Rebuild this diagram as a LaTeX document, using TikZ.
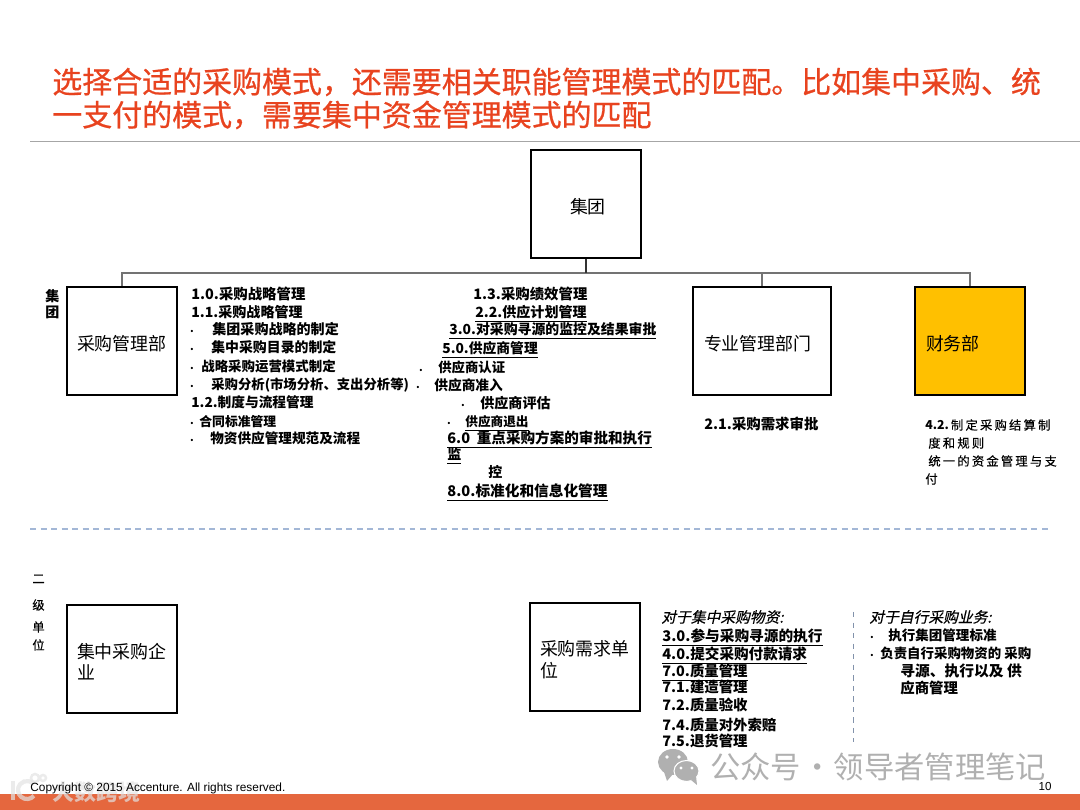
\documentclass[tikz,border=0pt]{standalone}
\usepackage{fontspec}
\newfontfamily\cjk{Noto Sans CJK SC}
\newfontfamily\cjkhead[FakeBold=0.7]{Noto Sans CJK SC}
\newfontfamily\cjkwide[LetterSpace=18,FakeBold=0.4]{Noto Sans CJK SC}
\newfontfamily\cjkslant[FakeSlant=0.22,FakeBold=0.4]{Noto Sans CJK SC}
\setsansfont{Liberation Sans}
\definecolor{titlered}{HTML}{E8431F}
\definecolor{barorange}{HTML}{E5673E}
\definecolor{boxyellow}{HTML}{FFC000}
\definecolor{dashblue}{HTML}{A3B7D6}
\definecolor{markgray}{HTML}{B0B0B0}
\definecolor{markpale}{HTML}{E2E2E2}
\tikzset{
  unitbox/.style={draw=black, line width=1.4pt, inner xsep=.2cm, inner ysep=0pt, text width=#1, minimum height=2.16cm, align=left, execute at begin node={\rule{0pt}{11.6pt}}, font=\cjk\fontsize{10.2}{12}\selectfont},
  txt/.style={anchor=west, inner sep=0pt, text height=9pt, text depth=2.5pt, font=\cjk\bfseries\fontsize{#1}{10}\selectfont},
  txt/.default=8,
  wide/.style={anchor=west, inner sep=0pt, font=\cjkwide\fontsize{7}{9}\selectfont},
  slant/.style={anchor=west, inner sep=0pt, font=\cjkslant\fontsize{8.4}{10}\selectfont},
  headline/.style={anchor=west, inner sep=0pt, text=titlered, font=\cjkhead\fontsize{17.05}{20}\selectfont},
  dot/.style={inner sep=0pt, font=\cjk\bfseries\fontsize{6}{8}\selectfont}
}
\newcommand{\ul}[1]{\underline{#1}}
\begin{document}
\begin{tikzpicture}[x=0.02cm,y=-0.02cm]
  \useasboundingbox (0,0) rectangle (1080,810);
  \fill[barorange] (0,794) rectangle (1080,810);
  \draw[gray!70,line width=.5pt] (30,141) -- (1080,141);
  \draw[dashblue,dash pattern=on 3.4pt off 2.6pt,line width=.7pt] (30,529) -- (1050,529);
  \draw[dashblue!80!black,dash pattern=on 3pt off 3pt,line width=.5pt] (853,612) -- (853,742);
  \draw
    (52,82) node[headline] (title1){选择合适的采购模式，还需要相关职能管理模式的匹配。比如集中采购、统}
    (52,115) node[headline] (title2){一支付的模式，需要集中资金管理模式的匹配};
  \node[unitbox=1.8cm,align=center] (group) at (586,204) {\hspace*{2.2pt}集团};
  \node[unitbox=1.8cm] (purch) at (122,341) {采购管理部};
  \node[unitbox=2.32cm,inner xsep=.22cm] (spec) at (762,341) {专业管理部门};
  \node[unitbox=1.76cm,inner xsep=.22cm,fill=boxyellow] (fin) at (970,341) {财务部};
  \node[unitbox=1.8cm] (central) at (122,659) {集中采购企\\业};
  \node[unitbox=1.8cm] (demand) at (585,657) {采购需求单\\位};
  \coordinate (hub) at (586,273);
  \begin{scope}[line width=.6pt]
    \draw[black!55] (purch.north) |- (hub);
    \draw[black!55] (spec.north) |- (hub);
    \draw[black!55] (fin.north) |- (hub);
    \draw[black!80] (group.south) to (hub);
  \end{scope}
  \draw
    (45,296) node[txt] (lab1){集}
    (45,312) node[txt] (lab2){团}
    (32,579) node[wide] (lab3){二}
    (32,605) node[wide] (lab4){级}
    (32,627) node[wide] (lab5){单}
    (32,645) node[wide] (lab6){位};
  \draw
    (191,294) node[txt=8.2] (a1){1.0.采购战略管理}
    (191,312) node[txt] (a2){1.1.采购战略管理}
    (192,331) node[dot] (ad1){.}
    (212,329) node[txt] (a3){集团采购战略的制定}
    (192,349) node[dot] (ad2){.}
    (211,347) node[txt=7.9] (a4){集中采购目录的制定}
    (192,368) node[dot] (ad3){.}
    (201,366) node[txt=7.65] (a5){战略采购运营模式制定}
    (192,386) node[dot] (ad4){.}
    (211,384) node[txt=7.6] (a6){采购分析(市场分析、支出分析等)}
    (191,402) node[txt=7.8] (a7){1.2.制度与流程管理}
    (192,423) node[dot] (ad5){.}
    (199,421) node[txt=7.3] (a8){合同标准管理}
    (192,440) node[dot] (ad6){.}
    (210,438) node[txt=7.75] (a9){物资供应管理规范及流程};
  \draw
    (473,294) node[txt=8.2] (b1){1.3.采购绩效管理}
    (475,312) node[txt] (b2){\ul{2.2.供应计划管理}}
    (449,329) node[txt=7.9] (b3){\ul{3.0.对采购寻源的监控及结果审批}}
    (442,348) node[txt=7.85] (b4){\ul{5.0.供应商管理}}
    (421,370) node[dot] (bd1){.}
    (438,367) node[txt=7.6] (b5){供应商认证}
    (418,387) node[dot] (bd2){.}
    (434,385) node[txt=7.8] (b6){供应商准入}
    (463,405) node[dot] (bd3){.}
    (480,403) node[txt] (b7){供应商评估}
    (449,423) node[dot] (bd4){.}
    (465,421) node[txt=7.2] (b8){\ul{供应商退出}}
    (447,438) node[txt=8.3] (b9){\ul{6.0 \ 重点采购方案的审批和执行}}
    (447,454) node[txt] (b10){\ul{监}}
    (488,472) node[txt] (b11){控}
    (447,491) node[txt=8.35] (b12){\ul{8.0.标准化和信息化管理}};
  \draw
    (704,424) node[txt=8.2] (c1){2.1.采购需求审批}
    (925,425) node[wide] (d1){{\cjk\bfseries 4.2.}\,制定采购结算制}
    (928,443) node[wide] (d2){度和规则}
    (928,461) node[wide] (d3){统一的资金管理与支}
    (925,479) node[wide] (d4){付};
  \draw
    (661,617) node[slant] (e1){对于集中采购物资:}
    (662,636) node[txt=8.35] (e2){\ul{3.0.参与采购寻源的执行}}
    (662,654) node[txt=8.3] (e3){\ul{4.0.提交采购付款请求}}
    (662,671) node[txt=8.2] (e4){\ul{7.0.质量管理}}
    (662,687) node[txt=8.2] (e5){7.1.建造管理}
    (662,705) node[txt=8.2] (e6){7.2.质量验收}
    (662,725) node[txt=8.2] (e7){7.4.质量对外索赔}
    (662,741) node[txt=8.2] (e8){7.5.退货管理};
  \draw
    (869,617) node[slant] (f1){对于自行采购业务:}
    (872,637) node[dot] (fd1){.}
    (888,635) node[txt=7.7] (f2){执行集团管理标准}
    (872,655) node[dot] (fd2){.}
    (880,653) node[txt=7.65] (f3){负责自行采购物资的 采购}
    (900,671) node[txt=8.4] (f4){寻源、执行以及 供}
    (900,688) node[txt=8.2] (f5){应商管理};
  \fill[markgray] (673,762) ellipse (15 and 13);
  \fill[markgray] (664,772) -- (667,781) -- (673,774) -- cycle;
  \fill[markgray,draw=white,line width=.6pt] (686.5,771) ellipse (12.5 and 10.5);
  \fill[markgray] (691,780) -- (697,785) -- (696,776) -- cycle;
  \fill[white] (667,757) circle (1.8) (679,757) circle (1.8) (681,768) circle (1.6) (692,768) circle (1.6);
  \draw
    (710,767) node[anchor=west,inner sep=0pt,text=markgray,font=\cjk\fontsize{17.25}{18}\selectfont] (mark){公众号\hspace{-3.2pt} · \hspace{-3.2pt}领导者管理笔记};
  \begin{scope}[markpale,opacity=.7]
    \draw[line width=2.4pt] (13,781) -- (13,800);
    \draw[line width=2.4pt] (33.9,795.8) arc (40:320:9);
    \draw[line width=1.4pt] (35,778) circle (4) (43,778) circle (3);
    \draw (52,792) node[anchor=west,inner sep=0pt,text=markpale,font=\cjk\bfseries\fontsize{12.5}{14}\selectfont] (mark2){大数跨境};
  \end{scope}
  \draw
    (30,788) node[anchor=west,inner sep=0pt,font=\sffamily\fontsize{6.75}{8}\selectfont] (copy){Copyright © 2015 Accenture. All rights reserved.}
    (1045,787) node[inner sep=0pt,font=\sffamily\fontsize{6.6}{8}\selectfont] (page){10};
\end{tikzpicture}
\end{document}
